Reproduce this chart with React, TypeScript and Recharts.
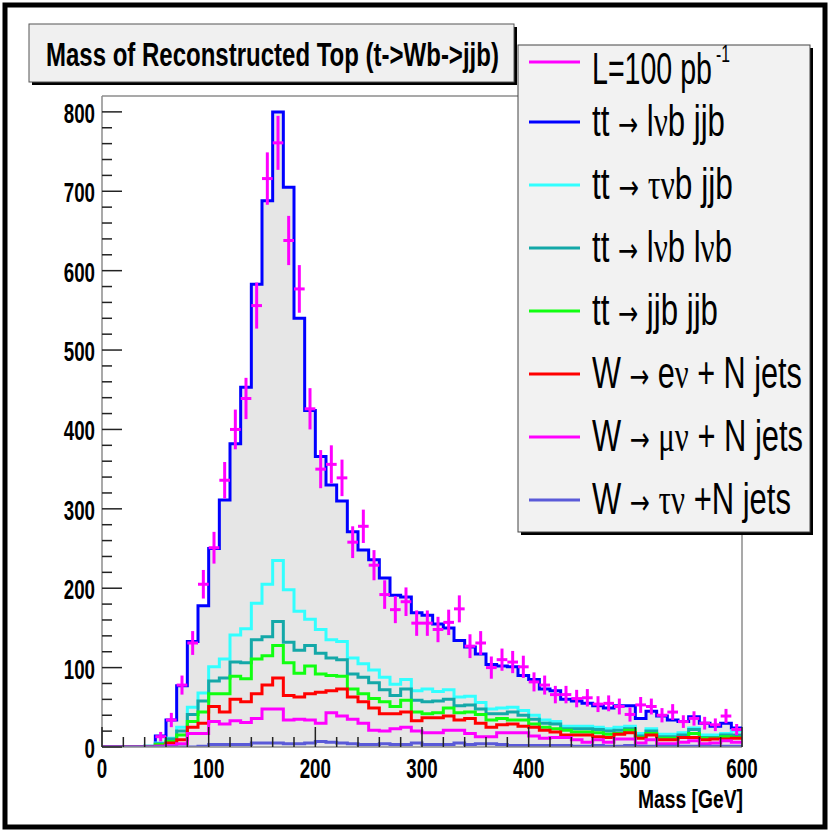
import React, { useLayoutEffect, useRef, useState } from "react";
import {
  Area,
  ComposedChart,
  ErrorBar,
  Line,
  ReferenceLine,
  Scatter,
  XAxis,
  YAxis,
} from "recharts";

// lower bin edges, 10 GeV bins
const binEdges = [
  0, 10, 20, 30, 40, 50, 60, 70, 80, 90, 100, 110, 120, 130, 140, 150, 160, 170, 180, 190,
  200, 210, 220, 230, 240, 250, 260, 270, 280, 290, 300, 310, 320, 330, 340, 350, 360, 370, 380, 390,
  400, 410, 420, 430, 440, 450, 460, 470, 480, 490, 500, 510, 520, 530, 540, 550, 560, 570, 580, 590,
];
const binCenters = [
  5, 15, 25, 35, 45, 55, 65, 75, 85, 95, 105, 115, 125, 135, 145, 155, 165, 175, 185, 195,
  205, 215, 225, 235, 245, 255, 265, 275, 285, 295, 305, 315, 325, 335, 345, 355, 365, 375, 385, 395,
  405, 415, 425, 435, 445, 455, 465, 475, 485, 495, 505, 515, 525, 535, 545, 555, 565, 575, 585, 595,
];
const histEnd = 600;

// stacked histograms as drawn (each line is the running sum)
const ttLvbJjb = [
  0, 0, 0, 0, 0, 14, 34, 77, 133, 178, 250, 311, 382, 453, 583, 688, 800, 705, 540, 424,
  366, 330, 310, 271, 248, 236, 213, 191, 189, 169, 166, 155, 150, 134, 126, 117, 104, 102, 101, 90,
  85, 73, 71, 60, 58, 55, 52, 49, 52, 52, 36, 45, 39, 34, 32, 38, 30, 26, 30, 24,
];
const ttTauvbJjb = [
  0, 0, 0, 0, 1, 5, 11, 25, 50, 68, 101, 111, 141, 149, 181, 205, 235, 198, 171, 161,
  148, 135, 133, 112, 105, 97, 88, 79, 85, 71, 73, 70, 72, 63, 64, 56, 48, 49, 50, 46,
  40, 34, 32, 26, 26, 26, 25, 23, 25, 26, 17, 23, 16, 16, 18, 24, 15, 15, 17, 20,
];
const ttLvbLvb = [
  0, 0, 0, 0, 1, 4, 10, 20, 41, 58, 83, 87, 107, 106, 135, 139, 158, 132, 122, 128,
  118, 112, 110, 92, 88, 81, 72, 65, 73, 59, 57, 58, 60, 52, 53, 48, 42, 42, 44, 40,
  35, 30, 29, 23, 23, 23, 22, 20, 21, 23, 14, 20, 13, 13, 15, 22, 12, 12, 15, 15,
];
const ttJjbJjb = [
  0, 0, 0, 0, 0, 3, 7, 15, 32, 44, 67, 67, 89, 86, 111, 115, 128, 106, 93, 102,
  92, 90, 89, 73, 67, 61, 57, 51, 59, 44, 42, 43, 49, 43, 44, 41, 34, 36, 34, 34,
  29, 25, 23, 21, 19, 19, 18, 16, 17, 21, 12, 17, 11, 11, 12, 17, 11, 11, 13, 12,
];
const wEnuJets = [
  0, 0, 0, 0, 0, 1, 5, 9, 25, 30, 51, 44, 60, 57, 67, 78, 87, 65, 63, 67,
  69, 71, 73, 63, 57, 49, 42, 42, 44, 33, 37, 37, 39, 34, 36, 30, 25, 28, 29, 26,
  25, 21, 19, 15, 15, 15, 13, 12, 16, 18, 11, 15, 9, 9, 12, 12, 9, 10, 10, 11,
];
const wMunuJets = [
  0, 0, 0, 0, 0, 1, 2, 4, 17, 17, 32, 29, 33, 31, 36, 48, 48, 34, 35, 34,
  30, 43, 39, 35, 30, 21, 20, 23, 25, 20, 18, 18, 21, 21, 17, 13, 13, 18, 18, 18,
  14, 11, 12, 12, 9, 6, 9, 6, 10, 10, 5, 9, 4, 4, 6, 8, 4, 5, 8, 6,
];
const wTaunuJets = [
  0, 0, 0, 0, 0, 0, 0, 0, 0, 1, 3, 3, 3, 3, 5, 5, 5, 4, 4, 5,
  7, 6, 5, 4, 3, 3, 4, 3, 3, 5, 3, 3, 3, 5, 3, 4, 4, 3, 2, 2,
  2, 2, 2, 2, 1, 1, 2, 1, 1, 2, 1, 1, 1, 1, 1, 1, 1, 1, 1, 1,
];

// pseudo data, L = 100 pb^-1 (null = empty bin)
const dataCounts = [
  null, null, null, null, null, 13, 34, 78, 131, 205, 251, 336, 400, 439, 556, 716, 761, 638, 577, 426,
  350, 356, 339, 258, 278, 229, 192, 173, 183, 156, 156, 148, 157, 174, 127, 131, 100, 110, 107, 101,
  82, 78, 66, 66, 61, 62, 54, 55, 51, 41, 53, 51, 40, 44, 32, 36, 30, 28, 39, 22,
];
const dataErrors = [
  0, 0, 0, 0, 0, 6, 9, 12, 15, 18, 20, 23, 25, 26, 29, 33, 34, 31, 30, 26,
  24, 24, 23, 20, 21, 19, 18, 17, 18, 16, 16, 16, 16, 17, 15, 15, 14, 14, 14, 14,
  12, 12, 11, 11, 11, 11, 10, 10, 10, 9, 10, 10, 9, 10, 8, 9, 8, 8, 9, 7,
];
const binHalfWidth = 5;

const xMajor = [0, 100, 200, 300, 400, 500, 600];
const xTicks = [
  0, 20, 40, 60, 80, 100, 120, 140, 160, 180, 200, 220, 240, 260, 280, 300,
  320, 340, 360, 380, 400, 420, 440, 460, 480, 500, 520, 540, 560, 580, 600,
];
const yMajor = [0, 100, 200, 300, 400, 500, 600, 700, 800];
const yTicks = [
  0, 20, 40, 60, 80, 100, 120, 140, 160, 180, 200, 220, 240, 260, 280, 300, 320, 340, 360, 380,
  400, 420, 440, 460, 480, 500, 520, 540, 560, 580, 600, 620, 640, 660, 680, 700, 720, 740, 760, 780, 800,
];

const series = [
  { key: "ttLvbJjb", label: "tt \u2192 l\u03bdb jjb", color: "#0000ff", values: ttLvbJjb, w: 133 },
  { key: "ttTauvbJjb", label: "tt \u2192 \u03c4\u03bdb jjb", color: "#33ffff", values: ttTauvbJjb, w: 141 },
  { key: "ttLvbLvb", label: "tt \u2192 l\u03bdb l\u03bdb", color: "#14a8a8", values: ttLvbLvb, w: 140 },
  { key: "ttJjbJjb", label: "tt \u2192 jjb jjb", color: "#11ff11", values: ttJjbJjb, w: 126 },
  { key: "wEnuJets", label: "W \u2192 e\u03bd + N jets", color: "#ff0000", values: wEnuJets, w: 210 },
  { key: "wMunuJets", label: "W \u2192 \u03bc\u03bd + N jets", color: "#ff00ff", values: wMunuJets, w: 211 },
  { key: "wTaunuJets", label: "W \u2192 \u03c4\u03bd +N jets", color: "#5a5ad8", values: wTaunuJets, w: 199 },
];

const histRows = [...binEdges, histEnd].map((x, i) => {
  const idx = Math.min(i, binEdges.length - 1);
  const row: Record<string, number> = { x };
  series.forEach((s) => {
    row[s.key] = s.values[idx];
  });
  return row;
});

const dataPoints = binCenters
  .map((x, i) => ({ x, y: dataCounts[i], ey: dataErrors[i], ex: binHalfWidth }))
  .filter((p) => p.y !== null);

const FONT = "'Liberation Sans', Arial, Helvetica, sans-serif";
const GREEK_FONT = "'Liberation Serif', 'DejaVu Serif', serif";
const ARROW_FONT = "'DejaVu Sans', sans-serif";
const TICK_COLOR = "#222";
const FRAME = "#8c8c8c";
const TICK_SQUEEZE = 0.67; // axis digits are narrow in the original

// split a label into runs: plain text, greek letters (serif), arrow (full-size glyph)
function labelParts(label: string) {
  const runs = label.match(/\u2192|[\u0370-\u03ff]+|[^\u2192\u0370-\u03ff]+/g) || [];
  return runs.map((r, i) => {
    if (r === "\u2192") {
      return (
        <tspan key={i} fontFamily={ARROW_FONT} fontSize={34}>
          {r}
        </tspan>
      );
    }
    if (/[\u0370-\u03ff]/.test(r)) {
      return (
        <tspan key={i} fontFamily={GREEK_FONT}>
          {r}
        </tspan>
      );
    }
    return <tspan key={i}>{r}</tspan>;
  });
}

// text squeezed horizontally to a given width (ROOT output is narrow)
function FitText({ x, y, width, children, ...rest }: any) {
  const ref = useRef<SVGTextElement>(null);
  const [sx, setSx] = useState(1);
  useLayoutEffect(() => {
    if (ref.current) {
      const w = ref.current.getBBox().width;
      if (w > 0) setSx(width / w);
    }
  }, [width]);
  return (
    <g transform={`translate(${x},${y}) scale(${sx},1)`}>
      <text ref={ref} x={0} y={0} {...rest}>
        {children}
      </text>
    </g>
  );
}

const YTick = (props: any) => {
  const { x, y, payload } = props;
  const v = payload.value;
  const major = yMajor.includes(v);
  return (
    <g>
      <line x1={x} x2={x + (major ? 20 : 10)} y1={y} y2={y} stroke={TICK_COLOR} strokeWidth={1.5} />
      {major && (
        <g transform={`translate(${x - 7},${y + 11}) scale(${TICK_SQUEEZE},1)`}>
          <text x={0} y={0} textAnchor="end" fontFamily={FONT} fontWeight="bold" fontSize={28} fill="#000">
            {v}
          </text>
        </g>
      )}
    </g>
  );
};

const XTick = (props: any) => {
  const { x, y, payload } = props;
  const v = payload.value;
  const major = xMajor.includes(v);
  return (
    <g>
      <line x1={x} x2={x} y1={y} y2={y - (major ? 20 : 10)} stroke={TICK_COLOR} strokeWidth={1.5} />
      {major && (
        <g transform={`translate(${x},${y + 31}) scale(${TICK_SQUEEZE},1)`}>
          <text x={0} y={0} textAnchor="middle" fontFamily={FONT} fontWeight="bold" fontSize={28} fill="#000">
            {v}
          </text>
        </g>
      )}
    </g>
  );
};

const noMarker = () => <g />;

const legendRowsY = [122, 185, 248, 311, 374, 437, 500];

export default function App() {
  return (
    <div style={{ position: "absolute", left: 0, top: 0, width: 831, height: 832, background: "#fff" }}>
      <ComposedChart
        width={831}
        height={832}
        data={histRows}
        margin={{ top: 96, right: 89, bottom: 45, left: 42 }}
      >
        <XAxis
          dataKey="x"
          type="number"
          domain={[0, 600]}
          ticks={xTicks}
          interval={0}
          tickSize={0}
          tickMargin={0}
          height={40}
          allowDataOverflow
          tickLine={false}
          axisLine={{ stroke: FRAME, strokeWidth: 1.5 }}
          tick={XTick}
        />
        <YAxis
          type="number"
          domain={[0, 820]}
          ticks={yTicks}
          interval={0}
          tickSize={0}
          tickMargin={0}
          width={60}
          allowDataOverflow
          tickLine={false}
          axisLine={{ stroke: FRAME, strokeWidth: 1.5 }}
          tick={YTick}
        />
        <ReferenceLine y={820} stroke={FRAME} strokeWidth={1.5} />
        <ReferenceLine x={600} stroke={FRAME} strokeWidth={1.5} />
        <Area
          type="stepAfter"
          dataKey="ttLvbJjb"
          stroke="none"
          fill="#e6e6e6"
          fillOpacity={1}
          isAnimationActive={false}
        />
        {series.map((s) => (
          <Line
            key={s.key}
            type="stepAfter"
            dataKey={s.key}
            stroke={s.color}
            strokeWidth={3}
            dot={false}
            activeDot={false}
            isAnimationActive={false}
          />
        ))}
        <Scatter data={dataPoints} dataKey="y" shape={noMarker} isAnimationActive={false}>
          <ErrorBar dataKey="ey" direction="y" width={0} stroke="#ff00ff" strokeWidth={3} isAnimationActive={false} />
          <ErrorBar dataKey="ex" direction="x" width={0} stroke="#ff00ff" strokeWidth={3} isAnimationActive={false} />
        </Scatter>
      </ComposedChart>

      <svg
        width={831}
        height={832}
        style={{ position: "absolute", left: 0, top: 0, pointerEvents: "none" }}
      >
        {/* canvas frame */}
        <rect x={5} y={5} width={820} height={822} fill="none" stroke="#000" strokeWidth={5} />

        {/* title box */}
        <rect x={32} y={27} width={485} height={58} fill="#000" />
        <rect x={29} y={24} width={485} height={58} fill="#f0f0f0" stroke="#555" strokeWidth={1} />
        <FitText x={46} y={66} width={453} fontFamily={FONT} fontWeight="bold" fontSize={34}>
          Mass of Reconstructed Top (t-&gt;Wb-&gt;jjb)
        </FitText>

        {/* legend */}
        <rect x={521} y={48} width={292} height={487} fill="#000" />
        <rect x={518} y={45} width={292} height={487} fill="#f2f2f2" stroke="#444" strokeWidth={1} />
        <line x1={529} x2={580} y1={62} y2={62} stroke="#ff00ff" strokeWidth={3} />
        <FitText x={592} y={84} width={120} fontFamily={FONT} fontSize={44}>
          L=100 pb
        </FitText>
        <FitText x={716} y={62} width={14} fontFamily={FONT} fontSize={24}>
          -1
        </FitText>
        {series.map((s, i) => (
          <g key={s.key}>
            <line x1={529} x2={580} y1={legendRowsY[i]} y2={legendRowsY[i]} stroke={s.color} strokeWidth={3} />
            <FitText x={592} y={legendRowsY[i] + 14} width={s.w} fontFamily={FONT} fontSize={44}>
              {labelParts(s.label)}
            </FitText>
          </g>
        ))}

        {/* x axis title */}
        <FitText x={638} y={808} width={105} fontFamily={FONT} fontWeight="bold" fontSize={26}>
          Mass [GeV]
        </FitText>
      </svg>
    </div>
  );
}
